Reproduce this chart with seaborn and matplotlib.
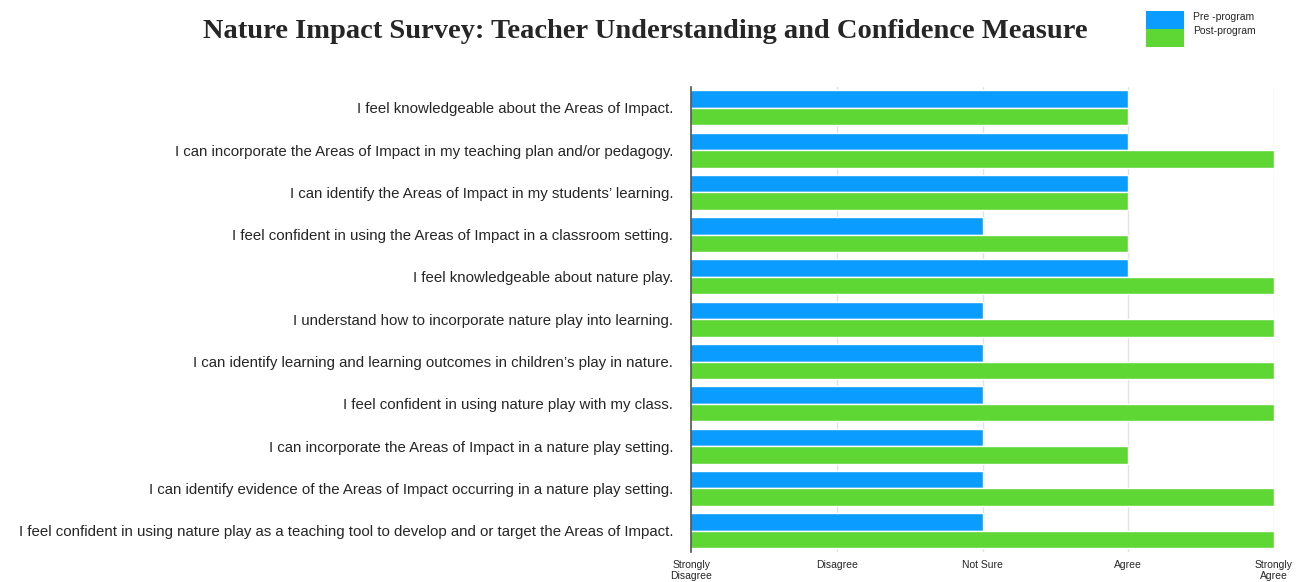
import pandas as pd
import seaborn as sns
import matplotlib.pyplot as plt
from matplotlib.patches import Rectangle

preguntas = [
    "I feel knowledgeable about the Areas of Impact.",
    "I can incorporate the Areas of Impact in my teaching plan and/or pedagogy.",
    "I can identify the Areas of Impact in my students\u2019 learning.",
    "I feel confident in using the Areas of Impact in a classroom setting.",
    "I feel knowledgeable about nature play.",
    "I understand how to incorporate nature play into learning.",
    "I can identify learning and learning outcomes in children\u2019s play in nature.",
    "I feel confident in using nature play with my class.",
    "I can incorporate the Areas of Impact in a nature play setting.",
    "I can identify evidence of the Areas of Impact occurring in a nature play setting.",
    "I feel confident in using nature play as a teaching tool to develop and or target the Areas of Impact.",
]
pre = [4, 4, 4, 3, 4, 3, 3, 3, 3, 3, 3]
post = [4, 5, 4, 4, 5, 5, 5, 5, 4, 5, 5]
series = ["Pre -program", "Post-program"]
colores = ["#0A9CFF", "#5ED634"]
escala = [1, 2, 3, 4, 5]
escala_labels = ["Strongly\nDisagree", "Disagree", "Not Sure", "Agree", "Strongly\nAgree"]

df = pd.DataFrame({"pregunta": preguntas * 2,
                   "valor": pre + post,
                   "serie": [series[0]] * len(pre) + [series[1]] * len(post)})

sns.set_style("white")
plt.rcParams["font.family"] = ["Liberation Sans", "DejaVu Sans"]

fig = plt.figure(figsize=(13.12, 5.82), dpi=100)
ax = fig.add_axes([0.527, 0.052, 0.444, 0.799])

sns.barplot(data=df, y="pregunta", x="valor", hue="serie", orient="h",
            palette=colores, saturation=1, width=0.83, ax=ax, legend=False)

ax.set_xlim(1, 5)
ax.set_xticks(escala)
ax.set_xticklabels(escala_labels, fontsize=7.5, linespacing=1.1)
ax.tick_params(axis="x", length=0, pad=6)
ax.tick_params(axis="y", length=0, labelsize=10.8, pad=13)
ax.set_xlabel("")
ax.set_ylabel("")
ax.grid(axis="x", color="#e2e2e2", linewidth=1)
ax.set_axisbelow(True)
for s in ["top", "right", "bottom"]:
    ax.spines[s].set_visible(False)
ax.spines["left"].set_color("#555555")
ax.spines["left"].set_linewidth(1.2)

fig.text(0.492, 0.946, "Nature Impact Survey: Teacher Understanding and Confidence Measure",
         ha="center", va="center", fontsize=20.5, fontweight="bold",
         family=["Liberation Serif", "DejaVu Serif"])

# leyenda dibujada a mano (cuadros pegados como en el original)
x0, w, h = 1146 / 1312, 38 / 1312, 18 / 582
for i, (nombre, c) in enumerate(zip(series, colores)):
    y = 1 - (11 + 18 * (i + 1)) / 582
    fig.add_artist(Rectangle((x0, y), w, h, transform=fig.transFigure,
                             facecolor=c, edgecolor="none"))
    fig.text(1193 / 1312, 1 - (17 + 14 * i) / 582, nombre, fontsize=7.5,
             va="center", ha="left")

fig.savefig("out.png", dpi=100)
